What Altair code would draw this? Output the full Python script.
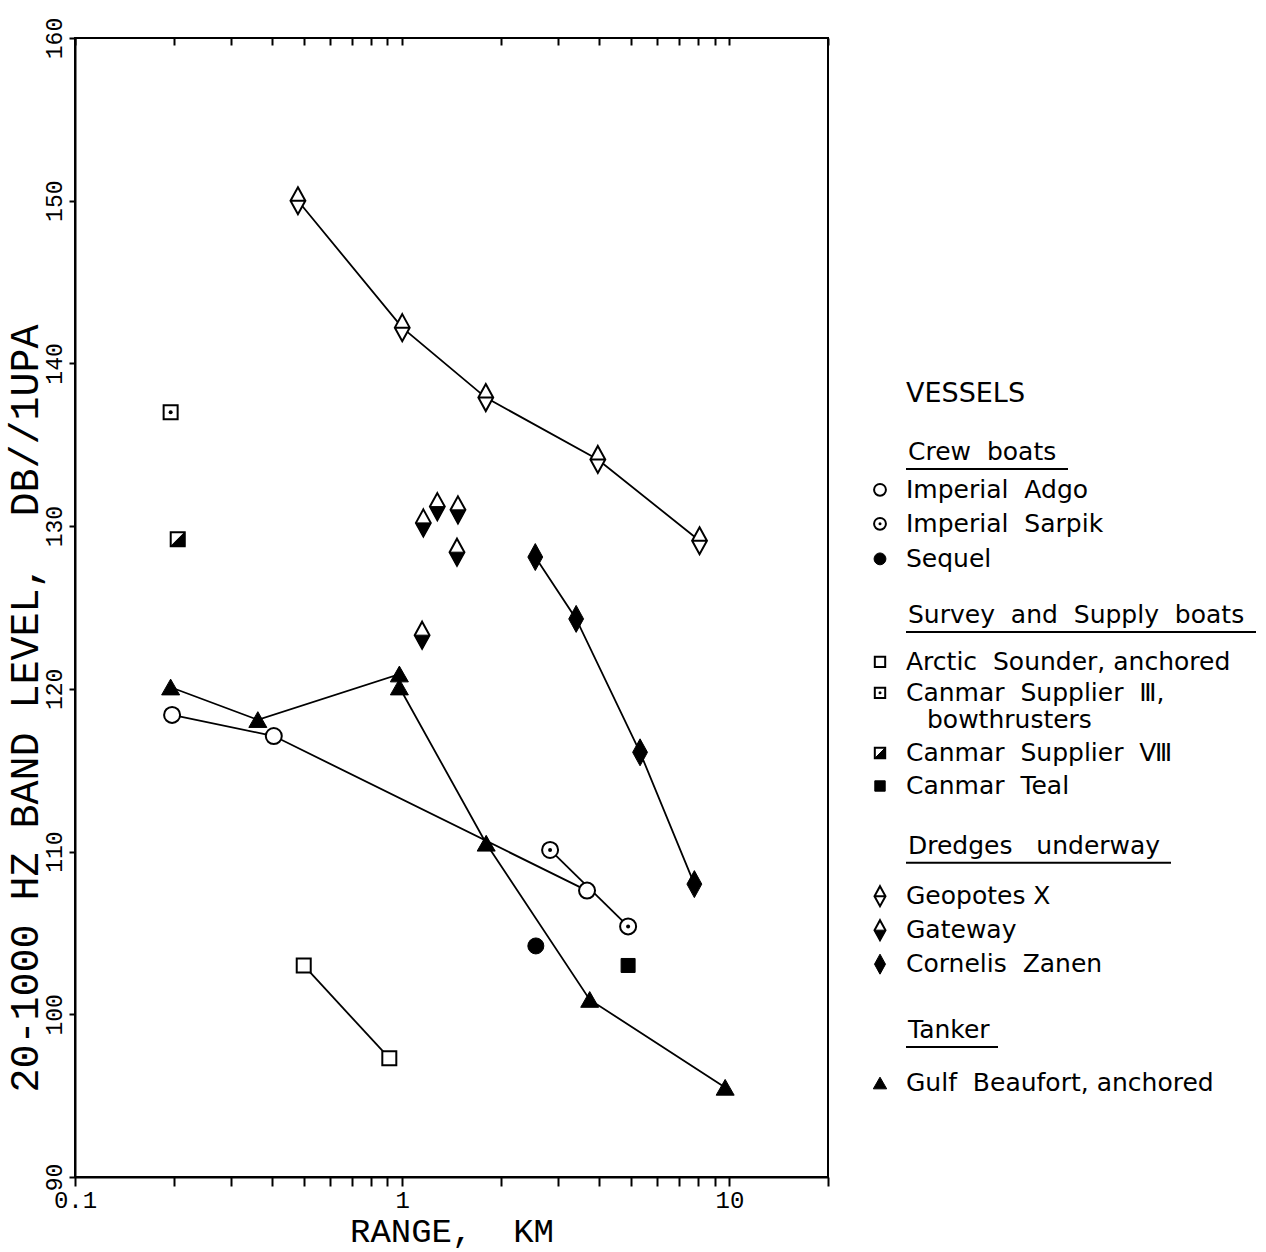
import altair as alt
import pandas as pd

# ---------------- data ----------------
geopotes_x = [0.48, 1.0, 1.80, 3.96, 8.1]
geopotes_y = [150.0, 142.2, 137.9, 134.1, 129.1]
gateway_x = [1.16, 1.28, 1.48, 1.47, 1.15]
gateway_y = [130.2, 131.2, 131.0, 128.4, 123.3]
zanen_x = [2.55, 3.40, 5.33, 7.81]
zanen_y = [128.1, 124.3, 116.1, 108.0]
adgo_x = [0.198, 0.405, 3.67]
adgo_y = [118.4, 117.1, 107.6]
sarpik_x = [2.83, 4.90]
sarpik_y = [110.1, 105.4]
sequel_x = [2.56]
sequel_y = [104.2]
sounder_x = [0.50, 0.913]
sounder_y = [103.0, 97.3]
supplier3_x = [0.196]
supplier3_y = [137.0]
supplier8_x = [0.206]
supplier8_y = [129.2]
teal_x = [4.90]
teal_y = [103.0]
gulf_x = [0.196, 0.362, 0.98, 0.98, 1.805, 3.74, 9.70]
gulf_y = [120.1, 118.1, 120.9, 120.1, 110.5, 100.9, 95.5]

x_ticks = [round(0.1 * k, 1) for k in range(1, 10)] + list(range(1, 10)) + [10, 20]
y_ticks = [90, 100, 110, 120, 130, 140, 150, 160]

NB = "\u00a0"
legend_heading = "VESSELS"
legend_groups = [
    ("Crew" + NB + " boats", [("adgo", ["Imperial" + NB + " Adgo"]),
                              ("sarpik", ["Imperial" + NB + " Sarpik"]),
                              ("sequel", ["Sequel"])]),
    ("Survey" + NB + " and" + NB + " Supply" + NB + " boats",
     [("sounder", ["Arctic" + NB + " Sounder, anchored"]),
      ("supplier3", ["Canmar" + NB + " Supplier" + NB + " \u2162,", "bowthrusters"]),
      ("supplier8", ["Canmar" + NB + " Supplier" + NB + " \u2167"]),
      ("teal", ["Canmar" + NB + " Teal"])]),
    ("Dredges" + NB + NB + " underway", [("geopotes", ["Geopotes \u2169"]),
                                         ("gateway", ["Gateway"]),
                                         ("zanen", ["Cornelis" + NB + " Zanen"])]),
    ("Tanker", [("gulf", ["Gulf" + NB + " Beaufort, anchored"])]),
]
# legend line positions (in legend line units, top of plot = 0)
legend_rows = [10.47,
               12.18, 13.29, 14.29, 15.32,
               16.97, 18.35, 19.26, 20.06, 21.03, 22.0,
               23.76, 25.24, 26.24, 27.24,
               29.18, 30.74]
underline_len = [162, 350, 265, 92]

series = [
    ("geopotes", geopotes_x, geopotes_y), ("gateway", gateway_x, gateway_y),
    ("zanen", zanen_x, zanen_y), ("adgo", adgo_x, adgo_y),
    ("sarpik", sarpik_x, sarpik_y), ("sequel", sequel_x, sequel_y),
    ("sounder", sounder_x, sounder_y), ("supplier3", supplier3_x, supplier3_y),
    ("supplier8", supplier8_x, supplier8_y), ("teal", teal_x, teal_y),
    ("gulf", gulf_x, gulf_y),
]
lined = ["geopotes", "zanen", "adgo", "sarpik", "sounder", "gulf"]

rows = []
for key, xs, ys in series:
    for i, (xv, yv) in enumerate(zip(xs, ys)):
        rows.append({"vessel": key, "x": xv, "y": yv, "ord": i})
df = pd.DataFrame(rows)

# ---------------- marker styles ----------------
DIAMOND = "M0,-1L0.55,0L0,1L-0.55,0Z"
DIAMOND_LINE = "M0,-1L0.55,0L0,1L-0.55,0Z M-0.55,0L0.55,0"
DIAMOND_BOTTOM = "M-0.55,0L0.55,0L0,1Z"
TRIANGLE = "M0,-0.9L1,0.85L-1,0.85Z"
HALF_SQUARE = "M1,-1L1,1L-1,1Z"

C, S, D, T = 256, 196, 729, 324
styles = {
    "adgo": [("circle", "white", C, 2)],
    "sarpik": [("circle", "white", C, 2), ("circle", "black", "dot", 0)],
    "sequel": [("circle", "black", C, 1)],
    "sounder": [("square", "white", S, 2)],
    "supplier3": [("square", "white", S, 2), ("circle", "black", "dot", 0)],
    "supplier8": [("square", "white", S, 2), (HALF_SQUARE, "black", S, 1)],
    "teal": [("square", "black", S, 1)],
    "geopotes": [(DIAMOND_LINE, "white", D, 2)],
    "gateway": [(DIAMOND, "white", D, 2), (DIAMOND_BOTTOM, "black", D, 1)],
    "zanen": [(DIAMOND, "black", D, 1)],
    "gulf": [(TRIANGLE, "black", T, 1)],
}


def symbol_layers(factor, dot, data=None, x_enc=None):
    out = []
    for key, comps in styles.items():
        for shape, fill, size, sw in comps:
            sz = dot if size == "dot" else size * factor
            base = alt.Chart(data) if data is not None else alt.Chart()
            ch = (base.mark_point(shape=shape, filled=True, fill=fill, stroke="black",
                                  strokeWidth=sw, size=sz, opacity=1, fillOpacity=1)
                  .transform_filter(alt.datum.vessel == key))
            if x_enc is not None:
                ch = ch.encode(x=x_enc)
            out.append(ch)
    return out


MONO = "Liberation Mono"
xscale = alt.Scale(type="log", domain=[0.1, 20])
yscale = alt.Scale(domain=[90, 160])

x_main = alt.X("x:Q", scale=xscale, axis=alt.Axis(
    orient="bottom", values=x_ticks, title="RANGE," + NB + " KM",
    labelExpr="datum.value == 0.1 ? '0.1' : datum.value == 1 ? '1' : datum.value == 10 ? '10' : ''",
    labelFont=MONO, labelFontSize=24, labelColor="black", labelFlush=False, labelPadding=2,
    labelOverlap=False,
    tickSize=9, tickColor="black", tickWidth=2, domainColor="black", domainWidth=2,
    titleFont=MONO, titleFontSize=34, titleFontWeight="normal", titleColor="black",
    titlePadding=2, grid=False))
x_none = alt.X("x:Q", scale=xscale, axis=None)
x_top = alt.X("x:Q", scale=xscale, axis=alt.Axis(
    orient="top", values=x_ticks, labels=False, title=None, domain=False,
    tickSize=7, tickColor="black", tickWidth=2, offset=-7, grid=False))
y_enc = alt.Y("y:Q", scale=yscale, axis=alt.Axis(
    values=y_ticks, title="20-1000 HZ BAND LEVEL," + NB + " DB//1UPA",
    labelFont=MONO, labelFontSize=23, labelColor="black", labelAngle=270,
    labelFlush=False, labelPadding=3, labelOverlap=False,
    tickSize=6, tickColor="black", tickWidth=2, domainColor="black", domainWidth=2,
    titleFont=MONO, titleFontSize=40, titleFontWeight="normal", titleColor="black",
    titleAngle=270, titleX=-50, titleY=670, titleBaseline="middle", titleAlign="center",
    grid=False))

lines = (alt.Chart().mark_line(color="black", strokeWidth=1.8)
         .transform_filter(alt.FieldOneOfPredicate(field="vessel", oneOf=lined))
         .encode(x=x_main, detail="vessel:N", order="ord:Q"))

top_axis = alt.Chart().mark_point(opacity=0).encode(x=x_top)

main = (alt.layer(lines, *symbol_layers(1.0, 16, x_enc=x_none), top_axis, data=df)
        .encode(y=y_enc)
        .resolve_axis(x="independent")
        .properties(width=753, height=1139,
                    view=alt.ViewBackground(stroke="black", strokeWidth=2)))

# ---------------- legend panel ----------------
text_rows, sym_rows, rule_rows = [], [], []
r = iter(legend_rows)
text_rows.append({"t": legend_heading, "lx": 46, "ly": next(r), "kind": "head"})
for gi, (gname, items) in enumerate(legend_groups):
    gy = next(r)
    text_rows.append({"t": gname, "lx": 48, "ly": gy, "kind": "group"})
    rule_rows.append({"lx": 46, "lx2": 46 + underline_len[gi], "ly": gy + 0.5})
    for key, texts in items:
        for li, t in enumerate(texts):
            iy = next(r)
            if li == 0:
                sym_rows.append({"vessel": key, "lx": 20, "ly": iy})
                text_rows.append({"t": t, "lx": 46, "ly": iy, "kind": "item"})
            else:
                text_rows.append({"t": t, "lx": 67, "ly": iy, "kind": "item"})

df_text = pd.DataFrame(text_rows)
df_sym = pd.DataFrame(sym_rows)
df_rule = pd.DataFrame(rule_rows)

lx_enc = alt.X("lx:Q", scale=alt.Scale(domain=[0, 395]), axis=None)
ly_enc = alt.Y("ly:Q", scale=alt.Scale(domain=[0, 33.5], reverse=True), axis=None)

SANS = "DejaVu Sans"
head_text = (alt.Chart(df_text).mark_text(align="left", baseline="middle", font=SANS,
                                         fontSize=27, color="black")
             .transform_filter(alt.datum.kind == "head").encode(text="t:N"))
body_text = (alt.Chart(df_text).mark_text(align="left", baseline="middle", font=SANS,
                                         fontSize=25, color="black")
             .transform_filter(alt.datum.kind != "head").encode(text="t:N"))
rules = alt.Chart(df_rule).mark_rule(color="black", strokeWidth=2).encode(x2="lx2:Q")

legend = (alt.layer(head_text, body_text, rules, *symbol_layers(0.55, 9, df_sym))
          .encode(x=lx_enc, y=ly_enc)
          .properties(width=395, height=1139,
                      view=alt.ViewBackground(stroke="transparent", strokeWidth=0)))

chart = (alt.hconcat(main, legend, spacing=30)
         .properties(padding={"left": 3, "top": 16, "right": 0, "bottom": 5},
                     background="white"))

chart.save("out.html", embed_options={"renderer": "svg", "actions": False})
